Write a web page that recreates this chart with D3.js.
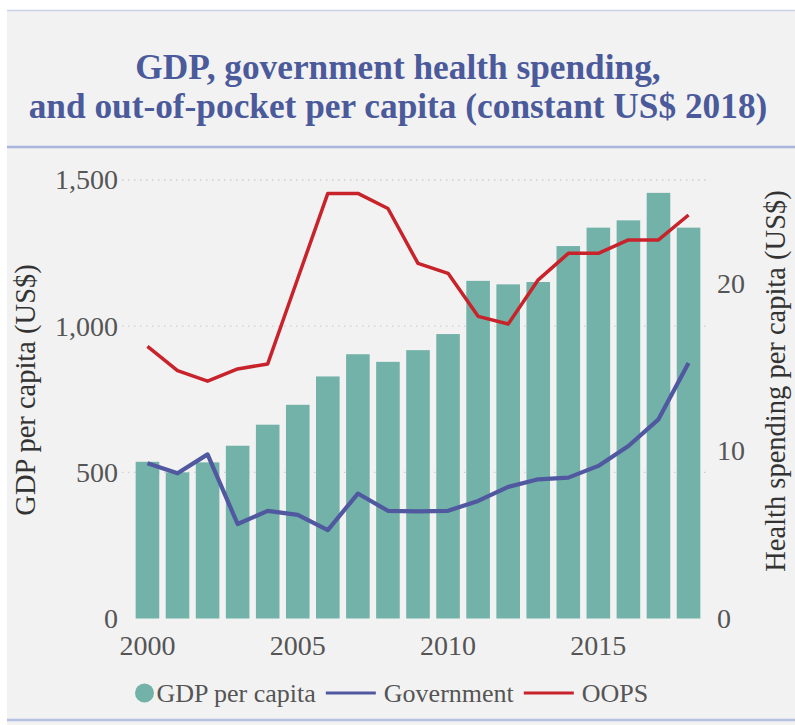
<!DOCTYPE html>
<html>
<head>
<meta charset="utf-8">
<script src="https://cdn.jsdelivr.net/npm/d3@7"></script>
<style>
  html, body { margin: 0; padding: 0; background: #ffffff; }
  svg { display: block; }
</style>
</head>
<body>
<svg id="chart" width="795" height="725"></svg>
<script>
// ---- data ----
const years = [2000,2001,2002,2003,2004,2005,2006,2007,2008,2009,2010,2011,2012,2013,2014,2015,2016,2017,2018];
const gdpPerCapita = [536,500,534,591,663,731,828,904,878,918,973,1155,1143,1151,1274,1337,1362,1456,1337];
const government = [9.27,8.67,9.80,5.64,6.43,6.19,5.28,7.46,6.43,6.39,6.43,7.02,7.86,8.31,8.41,9.11,10.30,11.89,15.26];
const oops = [16.25,14.80,14.17,14.90,15.20,20.3,25.38,25.38,24.48,21.2,20.61,18.04,17.58,20.22,21.80,21.80,22.60,22.60,24.09];
const leftTicks = [0,500,1000,1500];
const rightTicks = [0,10,20];
const xTickYears = [2000,2005,2010,2015];
const titleLines = ["GDP, government health spending,", "and out-of-pocket per capita (constant US$ 2018)"];
const leftTitle = "GDP per capita (US$)";
const rightTitle = "Health spending per capita (US$)";
const legendItems = [
  {label: "GDP per capita", type: "dot", color: "#73b2a9"},
  {label: "Government", type: "line", color: "#5058a0"},
  {label: "OOPS", type: "line", color: "#c8232b"}
];

// ---- layout ----
const FONT = "Liberation Serif";
const svg = d3.select("#chart");
const W = 795, H = 725;
const plotTop = 180, plotBottom = 618.5;

svg.append("rect").attr("x", 7).attr("y", 10).attr("width", W - 7).attr("height", H - 10).attr("fill", "#f2f2f2");
svg.append("line").attr("x1", 7).attr("x2", W).attr("y1", 10.5).attr("y2", 10.5).attr("stroke", "#c9d1e8").attr("stroke-width", 1.5);
svg.append("line").attr("x1", 7).attr("x2", W).attr("y1", 147).attr("y2", 147).attr("stroke", "#a9b5db").attr("stroke-width", 2.5);
svg.append("line").attr("x1", 7).attr("x2", W).attr("y1", 720).attr("y2", 720).attr("stroke", "#b5c0e0").attr("stroke-width", 2.5);

// title
svg.append("g").selectAll("text").data(titleLines).join("text")
  .attr("x", 398).attr("y", (d, i) => 79 + i * 39)
  .attr("text-anchor", "middle")
  .attr("font-family", FONT)
  .attr("font-size", 35.3).attr("font-weight", "bold")
  .attr("fill", "#4b5a9b")
  .text(d => d);

// scales
const x = d3.scaleBand().domain(years).range([129.2, 706.8]).paddingInner(0.215).paddingOuter(0.215);
const yL = d3.scaleLinear().domain([0, 1500]).range([plotBottom, plotTop]);
const yR = d3.scaleLinear().domain([0, 26.18]).range([plotBottom, plotTop]);

// gridlines
svg.append("g").selectAll("line").data(leftTicks.filter(d => d > 0)).join("line")
  .attr("x1", 122).attr("x2", 708)
  .attr("y1", d => yL(d)).attr("y2", d => yL(d))
  .attr("stroke", "#cfcfcf").attr("stroke-width", 1.3).attr("stroke-dasharray", "1.5,4.5");

// bars
svg.append("g").selectAll("rect").data(years).join("rect")
  .attr("x", d => x(d)).attr("width", x.bandwidth())
  .attr("y", (d, i) => yL(gdpPerCapita[i]))
  .attr("height", (d, i) => yL(0) - yL(gdpPerCapita[i]))
  .attr("fill", "#73b2a9");

// lines
const cx = d => x(d) + x.bandwidth() / 2;
const lineR = d3.line().x((d, i) => cx(years[i])).y(d => yR(d));
svg.append("path").datum(government).attr("d", lineR)
  .attr("fill", "none").attr("stroke", "#5058a0").attr("stroke-width", 4.2).attr("stroke-linejoin", "round");
svg.append("path").datum(oops).attr("d", lineR)
  .attr("fill", "none").attr("stroke", "#c8232b").attr("stroke-width", 3.5).attr("stroke-linejoin", "round");

// left axis
const axL = svg.append("g").attr("transform", "translate(118,0)")
  .call(d3.axisLeft(yL).tickValues(leftTicks).tickSize(0).tickPadding(0).tickFormat(d3.format(",")));
axL.attr("font-family", FONT);
axL.select(".domain").remove();
axL.selectAll("text").attr("font-family", FONT).attr("font-size", 28).attr("fill", "#555");

// right axis
const axR = svg.append("g").attr("transform", "translate(717,0)")
  .call(d3.axisRight(yR).tickValues(rightTicks).tickSize(0).tickPadding(0));
axR.attr("font-family", FONT);
axR.select(".domain").remove();
axR.selectAll("text").attr("font-family", FONT).attr("font-size", 28).attr("fill", "#555");

// x axis
const axX = svg.append("g").attr("transform", "translate(0,635)")
  .call(d3.axisBottom(x).tickValues(xTickYears).tickSize(0).tickPadding(0));
axX.attr("font-family", FONT);
axX.select(".domain").remove();
axX.selectAll("text").attr("font-family", FONT).attr("font-size", 28).attr("fill", "#555");

// axis titles
svg.append("text").attr("transform", "translate(35,390) rotate(-90)")
  .attr("font-family", FONT)
  .attr("text-anchor", "middle").attr("font-size", 28.5).attr("fill", "#333").text(leftTitle);
svg.append("text").attr("transform", "translate(785,381) rotate(-90)")
  .attr("font-family", FONT)
  .attr("text-anchor", "middle").attr("font-size", 28.5).attr("fill", "#333").text(rightTitle);

// legend
const lg = svg.append("g").attr("transform", "translate(0,693)");
let lx = 135;
legendItems.forEach(it => {
  if (it.type === "dot") {
    lg.append("circle").attr("cx", lx + 9.5).attr("cy", 0).attr("r", 9.5).attr("fill", it.color);
    lx += 21.5;
  } else {
    lg.append("line").attr("x1", lx + 10).attr("x2", lx + 60).attr("y1", 0).attr("y2", 0)
      .attr("stroke", it.color).attr("stroke-width", 3);
    lx += 68;
  }
  const t = lg.append("text").attr("x", lx).attr("y", 9).attr("font-family", FONT)
    .attr("font-size", 26).attr("fill", "#555").text(it.label);
  lx += t.node().getComputedTextLength();
});
</script>
</body>
</html>
